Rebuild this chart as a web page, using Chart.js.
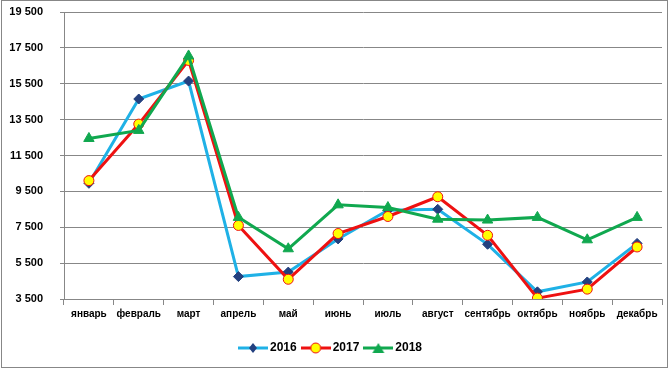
<!DOCTYPE html>
<html>
<head>
<meta charset="utf-8">
<script src="https://cdn.jsdelivr.net/npm/chart.js@4"></script>
<style>
  body { margin: 0; background: #fff; }
  #wrap { position: relative; width: 669px; height: 369px; }
</style>
</head>
<body>
<div id="wrap"><canvas id="grafico" width="669" height="369"></canvas></div>
<script>
// Dados
const meses = ['январь', 'февраль', 'март', 'апрель', 'май', 'июнь', 'июль', 'август', 'сентябрь', 'октябрь', 'ноябрь', 'декабрь'];
const valores2016 = [9950, 14650, 15650, 4750, 5000, 6850, 8450, 8500, 6550, 3900, 4450, 6600];
const valores2017 = [10100, 13250, 16800, 7600, 4600, 7150, 8100, 9200, 7050, 3550, 4050, 6400];
const valores2018 = [12450, 12900, 17050, 8050, 6300, 8750, 8600, 7950, 7900, 8050, 6800, 8050];

const eixoMin = 3500;
const eixoMax = 19500;
const eixoPasso = 2000;

const fonte = { family: 'Liberation Sans', size: 10, weight: 'bold' };

// icone da legenda: linha + marcador
function iconeLegenda(corLinha, desenhaMarcador) {
  const c = document.createElement('canvas');
  c.width = 30;
  c.height = 14;
  const ctx = c.getContext('2d');
  ctx.strokeStyle = corLinha;
  ctx.lineWidth = 3;
  ctx.beginPath();
  ctx.moveTo(0, 7);
  ctx.lineTo(30, 7);
  ctx.stroke();
  desenhaMarcador(ctx, 15, 7);
  return c;
}

const icone2016 = iconeLegenda('#1fb1e6', (ctx, x, y) => {
  ctx.fillStyle = '#23407f';
  ctx.beginPath();
  ctx.moveTo(x, y - 5); ctx.lineTo(x + 4, y); ctx.lineTo(x, y + 5); ctx.lineTo(x - 4, y);
  ctx.closePath();
  ctx.fill();
});
const icone2017 = iconeLegenda('#ee1111', (ctx, x, y) => {
  ctx.fillStyle = '#ffff00';
  ctx.strokeStyle = '#ee1111';
  ctx.lineWidth = 1;
  ctx.beginPath();
  ctx.arc(x, y, 5, 0, Math.PI * 2);
  ctx.fill();
  ctx.stroke();
});
const icone2018 = iconeLegenda('#10a84f', (ctx, x, y) => {
  ctx.fillStyle = '#10a84f';
  ctx.beginPath();
  ctx.moveTo(x, y - 5); ctx.lineTo(x + 6, y + 5); ctx.lineTo(x - 6, y + 5);
  ctx.closePath();
  ctx.fill();
});

const moldura = {
  id: 'moldura',
  afterDraw(chart) {
    const ctx = chart.ctx;
    ctx.save();
    ctx.strokeStyle = '#878787';
    ctx.lineWidth = 1;
    ctx.strokeRect(1.5, 0.5, 666, 367);
    ctx.restore();
  }
};

new Chart(document.getElementById('grafico'), {
  type: 'line',
  data: {
    labels: meses,
    datasets: [
      {
        label: '2016',
        data: valores2016,
        borderColor: '#1fb1e6',
        borderWidth: 3,
        pointStyle: 'rectRot',
        pointRadius: 5,
        pointBackgroundColor: '#23407f',
        pointBorderColor: '#23407f',
        pointBorderWidth: 1,
        tension: 0,
        order: 3
      },
      {
        label: '2017',
        data: valores2017,
        borderColor: '#ee1111',
        borderWidth: 3,
        pointStyle: 'circle',
        pointRadius: 5,
        pointBackgroundColor: '#ffff00',
        pointBorderColor: '#ee1111',
        pointBorderWidth: 1,
        tension: 0,
        order: 2
      },
      {
        label: '2018',
        data: valores2018,
        borderColor: '#10a84f',
        borderWidth: 3,
        pointStyle: 'triangle',
        pointRadius: 6,
        pointBackgroundColor: '#10a84f',
        pointBorderColor: '#10a84f',
        pointBorderWidth: 1,
        tension: 0,
        order: 1
      }
    ]
  },
  options: {
    responsive: false,
    animation: false,
    layout: { padding: { left: 0, right: 5, top: 12, bottom: 5 } },
    plugins: {
      tooltip: { enabled: false },
      legend: {
        position: 'bottom',
        labels: {
          usePointStyle: true,
          pointStyleWidth: 22,
          color: '#000',
          font: { family: 'Liberation Sans', size: 12, weight: 'bold' },
          padding: 8,
          generateLabels(chart) {
            const icones = [icone2016, icone2017, icone2018];
            return chart.data.datasets.map((ds, i) => ({
              text: ds.label,
              pointStyle: icones[i],
              fillStyle: ds.borderColor,
              strokeStyle: ds.borderColor,
              lineWidth: 0,
              fontColor: '#000',
              datasetIndex: i
            }));
          }
        }
      }
    },
    scales: {
      x: {
        offset: true,
        grid: {
          offset: true,
          drawOnChartArea: false,
          drawTicks: true,
          tickLength: 6,
          color: '#878787'
        },
        border: { display: true, color: '#878787' },
        ticks: { color: '#000', font: fonte, padding: 3, maxRotation: 0, autoSkip: false },
        afterFit(scale) { scale.height = 35; }
      },
      y: {
        min: eixoMin,
        max: eixoMax,
        grid: { color: '#878787', tickLength: 4 },
        border: { display: true, color: '#878787' },
        ticks: {
          stepSize: eixoPasso,
          color: '#000',
          font: { family: 'Liberation Sans', size: 11, weight: 'bold' },
          padding: 17,
          callback: v => v.toLocaleString('ru-RU').replace(/\s/g, ' ')
        },
        afterFit(scale) {
          scale.width = 64;
          scale.paddingTop = 0;
          scale.paddingBottom = 0;
        }
      }
    }
  },
  plugins: [moldura]
});
</script>
</body>
</html>
